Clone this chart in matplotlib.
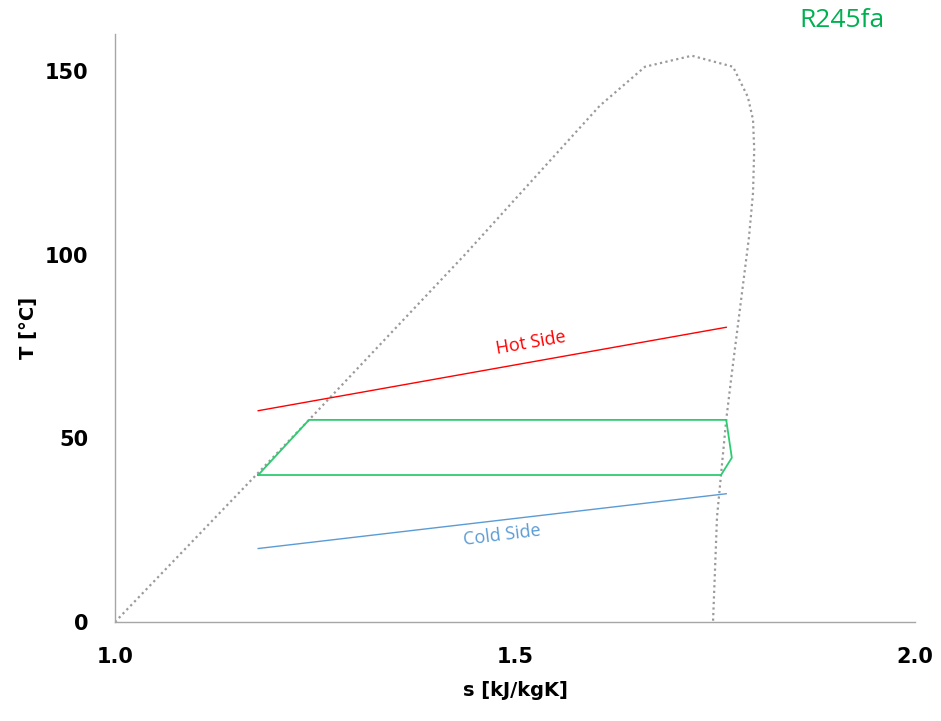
import matplotlib.pyplot as plt

# saturation dome of R245fa (entropy kJ/kgK, temperature °C)
dome_s = [1.0, 1.2425, 1.4375, 1.606, 1.6625, 1.721, 1.7725, 1.791, 1.7975, 1.799,
          1.7975, 1.7925, 1.77, 1.764, 1.7525, 1.7475]
dome_T = [0.0, 55.0, 100.0, 140.5, 151.1, 154.1, 151.1, 142.9, 136.7, 128.6,
          116.8, 104.8, 65.9, 55.0, 28.6, 0.0]

# ORC cycle
cycle_s = [1.179, 1.2425, 1.764, 1.771, 1.7575, 1.179]
cycle_T = [40.0, 55.0, 55.0, 44.7, 40.0, 40.0]

# heat source / sink
hot_s = [1.179, 1.764]
hot_T = [57.5, 80.2]
cold_s = [1.179, 1.764]
cold_T = [20.0, 34.9]

x_ticks = [1.0, 1.5, 2.0]
y_ticks = [0, 50, 100, 150]

fig = plt.figure(figsize=(9.41, 7.21), dpi=100)
ax = fig.add_axes([0.1222, 0.1373, 0.8502, 0.8155])

ax.plot(dome_s, dome_T, color='#9a9a9a', linestyle=(0, (1, 1.5)), linewidth=1.6)
ax.plot(cycle_s, cycle_T, color='#2ecc71', linewidth=1.3)
ax.plot(hot_s, hot_T, color='#ff0000', linewidth=1.0)
ax.plot(cold_s, cold_T, color='#5b9bd5', linewidth=1.0)

ax.text(1.52, 76.0, 'Hot Side', color='#ff0000', fontsize=13, rotation=10,
        ha='center', va='center', family='Open Sans')
ax.text(1.484, 23.5, 'Cold Side', color='#5b9bd5', fontsize=13, rotation=7,
        ha='center', va='center', family='Open Sans')

ax.set_xlim(1.0, 2.0)
ax.set_ylim(0, 160)
ax.set_xticks(x_ticks)
ax.set_xticklabels(['1.0', '1.5', '2.0'])
ax.set_yticks(y_ticks)
ax.tick_params(length=0, labelsize=15)
ax.tick_params(axis='x', pad=18)
ax.tick_params(axis='y', pad=19)
for lbl in ax.get_xticklabels() + ax.get_yticklabels():
    lbl.set_fontweight('bold')

for side in ['top', 'right']:
    ax.spines[side].set_visible(False)
for side in ['left', 'bottom']:
    ax.spines[side].set_color('#a6a6a6')
    ax.spines[side].set_linewidth(1.0)

ax.set_xlabel('s [kJ/kgK]', fontsize=14, fontweight='bold', labelpad=10)
ax.set_ylabel('T [°C]', fontsize=14, fontweight='bold', labelpad=5)

fig.text(0.895, 0.972, 'R245fa', color='#00b050', fontsize=19,
         ha='center', va='center', family='Open Sans')

fig.savefig('out.png', dpi=100)
